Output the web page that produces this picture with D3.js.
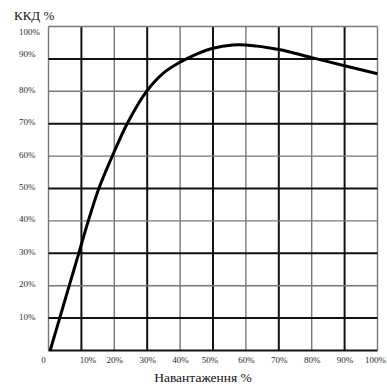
<!DOCTYPE html>
<html>
<head>
<meta charset="utf-8">
<script src="https://cdn.jsdelivr.net/npm/d3@7"></script>
<style>
  body { margin: 0; background: #fff; }
</style>
</head>
<body>
<figure id="chart" style="margin:0"></figure>
<script>
// load (%) vs efficiency (%)
const load = [0.5, 3.4, 6.3, 9.2, 12.1, 15.3, 19.4, 23.9, 29.8, 35, 40, 45, 50, 56, 60, 70, 80, 90, 100];
const efficiency = [0, 10, 20, 30, 40, 50, 60, 70, 80, 85.7, 89, 91.5, 93.3, 94.3, 94.3, 92.9, 90.4, 87.9, 85.4];

const xTicks = [0, 10, 20, 30, 40, 50, 60, 70, 80, 90, 100];
const yTicks = [10, 20, 30, 40, 50, 60, 70, 80, 90, 100];
const xTitle = "Навантаження %";
const yTitle = "ККД %";

const width = 387, height = 385;
const serif = 'Liberation Serif';

const svg = d3.select('figure#chart')
  .append('svg')
  .attr('width', width)
  .attr('height', height);

const x = d3.scaleLinear().domain([0, 100]).range([48.5, 377.5]);
const y = d3.scaleLinear().domain([0, 100]).range([350.5, 26.5]);

const isMajor = d => d === 0 || (d / 10) % 2 === 1;

// grid: 10,30,50.. dark and thick, 20,40,.. thin grey
const grid = svg.append('g');
grid.selectAll('line.v')
  .data(xTicks)
  .enter().append('line')
  .attr('x1', d => x(d)).attr('x2', d => x(d))
  .attr('y1', y(100)).attr('y2', y(0))
  .attr('stroke', d => (d / 10) % 2 === 1 ? '#111' : '#777')
  .attr('stroke-width', d => (d / 10) % 2 === 1 ? 2 : 1.4);

grid.selectAll('line.h')
  .data([0].concat(yTicks))
  .enter().append('line')
  .attr('y1', d => y(d)).attr('y2', d => y(d))
  .attr('x1', x(0)).attr('x2', x(100))
  .attr('stroke', d => isMajor(d) ? '#111' : '#777')
  .attr('stroke-width', d => isMajor(d) ? 2 : 1.4);

// y tick labels
const yAxis = svg.append('g')
  .attr('transform', 'translate(' + x(0) + ',0)')
  .call(d3.axisLeft(y).tickValues(yTicks).tickSize(0).tickFormat(d => d + '%'));
yAxis.select('.domain').remove();
yAxis.attr('font-family', serif).attr('font-size', 9);
yAxis.selectAll('text')
  .attr('x', 19 - x(0))
  .attr('dy', d => d === 100 ? '0.85em' : d === 90 ? '-0.3em' : '0.1em')
  .attr('text-anchor', 'start')
  .attr('fill', '#2a2a2a');

// x tick labels
const xAxis = svg.append('g')
  .attr('transform', 'translate(0,' + y(0) + ')')
  .call(d3.axisBottom(x).tickValues(xTicks).tickSize(0).tickFormat(d => d === 0 ? '0' : d + '%'));
xAxis.select('.domain').remove();
xAxis.attr('font-family', serif).attr('font-size', 9);
xAxis.selectAll('text')
  .attr('y', 6)
  .attr('dx', d => d === 0 ? -5.5 : d === 10 ? 6 : d === 50 ? -3.5 : d === 100 ? -2.5 : 0)
  .attr('fill', '#2a2a2a');

// titles
svg.append('text')
  .attr('x', 14)
  .attr('y', 20)
  .attr('font-family', serif)
  .attr('font-size', 13)
  .attr('fill', '#111')
  .text(yTitle);

svg.append('text')
  .attr('x', 203)
  .attr('y', 382)
  .attr('text-anchor', 'middle')
  .attr('font-family', serif)
  .attr('font-size', 13.5)
  .attr('fill', '#111')
  .text(xTitle);

// curve
const points = load.map((d, i) => [d, efficiency[i]]);
svg.append('path')
  .datum(points)
  .attr('fill', 'none')
  .attr('stroke', '#000')
  .attr('stroke-width', 3)
  .attr('d', d3.line()
    .x(d => x(d[0]))
    .y(d => y(d[1]))
    .curve(d3.curveCatmullRom));
</script>
</body>
</html>
